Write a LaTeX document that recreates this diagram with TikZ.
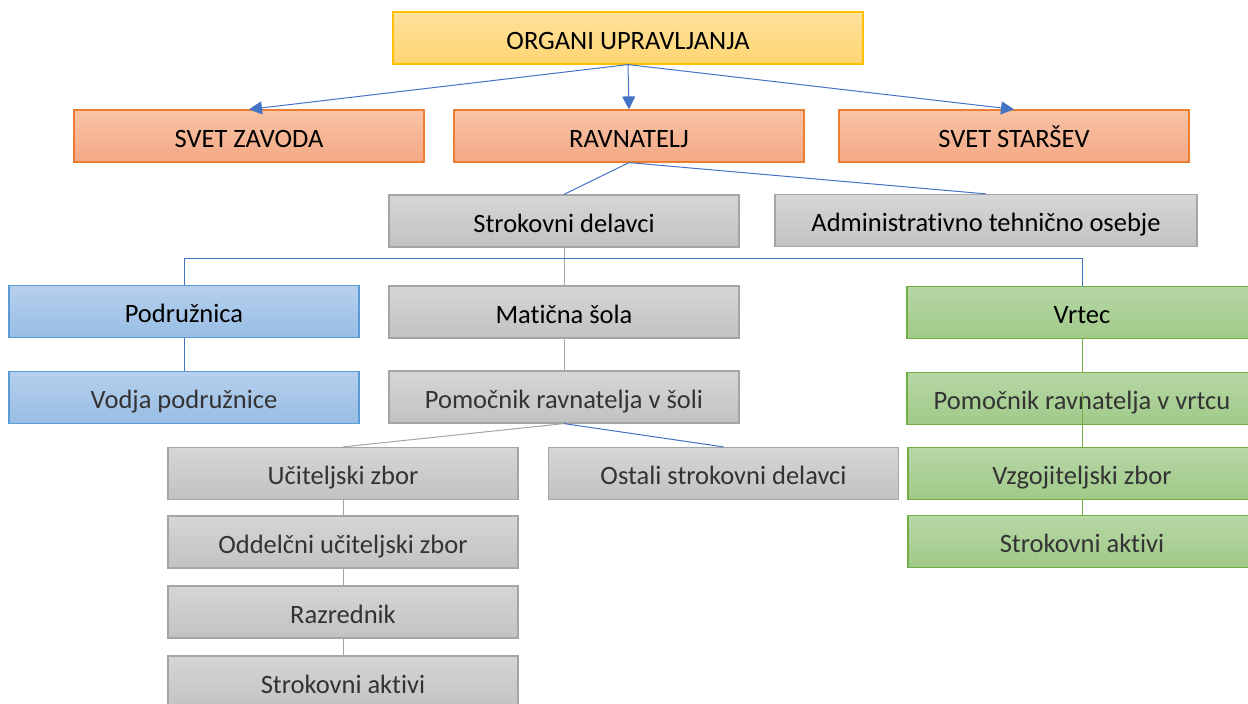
\documentclass[tikz,border=0pt]{standalone}
\usepackage{fontspec}
\setmainfont{Carlito}[Ligatures=NoCommon]
\usetikzlibrary{arrows.meta}

\begin{document}
\begin{tikzpicture}[x=1pt, y=-1pt,
    box/.style={minimum width=350pt, minimum height=52pt, inner sep=0pt,
      text height=26pt, text depth=4pt,
      line width=1.2pt, font=\fontsize{26.5}{30}\selectfont},
    lightbox/.style={box, text=black!80},
    yellowbox/.style={box, draw=yellowborder, top color=yellowtop, bottom color=yellowbot},
    orangebox/.style={box, draw=orangeborder, top color=orangetop, bottom color=orangebot},
    graybox/.style={draw=grayborder, top color=graytop, bottom color=graybot},
    bluebox/.style={draw=blueborder, top color=bluetop, bottom color=bluebot},
    greenbox/.style={draw=greenborder, top color=greentop, bottom color=greenbot},
    bline/.style={draw=linkblue, line width=1pt},
    gline/.style={draw=grayborder, line width=1pt},
    grline/.style={draw=greenborder, line width=1pt},
    arr/.style={bline, -{Triangle[width=13pt, length=13pt]}}]
  % Define colors
  \definecolor{yellowborder}{HTML}{FFC000}
  \definecolor{yellowtop}{HTML}{FFE29E}
  \definecolor{yellowbot}{HTML}{FFD571}
  \definecolor{orangeborder}{HTML}{ED7D31}
  \definecolor{orangetop}{HTML}{F8C3A6}
  \definecolor{orangebot}{HTML}{F4A985}
  \definecolor{grayborder}{HTML}{A5A5A5}
  \definecolor{graytop}{HTML}{D6D6D6}
  \definecolor{graybot}{HTML}{C2C2C2}
  \definecolor{blueborder}{HTML}{5B9BD5}
  \definecolor{bluetop}{HTML}{B6D0EC}
  \definecolor{bluebot}{HTML}{98BDE5}
  \definecolor{greenborder}{HTML}{70AD47}
  \definecolor{greentop}{HTML}{B7D7A6}
  \definecolor{greenbot}{HTML}{A0CA88}
  \definecolor{linkblue}{HTML}{4472C4}

  \useasboundingbox (0,0) rectangle (1248,704);

  % Top level
  \node[yellowbox, minimum width=470pt] (org) at (628,38) {ORGANI UPRAVLJANJA};
  \node[orangebox] (svz) at (249,136) {SVET ZAVODA};
  \node[orangebox] (rav) at (629,136) {RAVNATELJ};
  \node[orangebox] (sst) at (1014,136) {SVET STARŠEV};

  % Staff
  \node[box, graybox] (strok) at (564,221) {Strokovni delavci};
  \node[box, graybox, minimum width=422pt] (adm) at (986,220.5) {Administrativno tehnično osebje};

  % Units
  \node[box, bluebox] (podr) at (184,311.5) {Podružnica};
  \node[box, graybox] (mat) at (564,312) {Matična šola};
  \node[box, greenbox] (vrt) at (1082,312.5) {Vrtec};

  \node[lightbox, bluebox] (vodja) at (184,397.5) {Vodja podružnice};
  \node[lightbox, graybox] (poms) at (564,397) {Pomočnik ravnatelja v šoli};
  \node[lightbox, greenbox] (pomv) at (1082,398.5) {Pomočnik ravnatelja v vrtcu};

  % School
  \node[lightbox, graybox] (ucz) at (343,473.5) {Učiteljski zbor};
  \node[lightbox, graybox] (ost) at (723.5,473.5) {Ostali strokovni delavci};
  \node[lightbox, graybox] (odd) at (343,542) {Oddelčni učiteljski zbor};
  \node[lightbox, graybox] (raz) at (343,612) {Razrednik};
  \node[lightbox, graybox] (sak) at (343,682) {Strokovni aktivi};

  % Kindergarten
  \node[lightbox, greenbox, minimum width=348pt] (vzg) at (1082,473.5) {Vzgojiteljski zbor};
  \node[lightbox, greenbox, minimum width=348pt] (svv) at (1082,541.5) {Strokovni aktivi};

  % Arrows from the top
  \draw[arr] (org.south) -- (svz.north);
  \draw[arr] (org.south) -- (rav.north);
  \draw[arr] (org.south) -- (sst.north);

  % Connectors
  \draw[bline] (rav.south) -- (strok.north);
  \draw[bline] (rav.south) -- (adm.north);
  \draw[gline] (strok.south) -- (mat.north);
  \draw[bline] (strok.south) ++(0,11) -| (podr.north);
  \draw[bline] (strok.south) ++(0,11) -| (vrt.north);
  \draw[bline] (podr.south) -- (vodja.north);
  \draw[gline] (mat.south) -- (poms.north);
  \draw[grline] (vrt.south) -- (pomv.north);
  \draw[grline] ([yshift=7pt]pomv.center) -- (vzg.north);
  \draw[grline] (vzg.south) -- (svv.north);
  \draw[gline] (poms.south) -- (ucz.north);
  \draw[bline] (poms.south) -- (ost.north);
  \draw[gline] (ucz.south) -- (odd.north);
  \draw[gline] (odd.south) -- (raz.north);
  \draw[gline] (raz.south) -- (sak.north);
\end{tikzpicture}
\end{document}
